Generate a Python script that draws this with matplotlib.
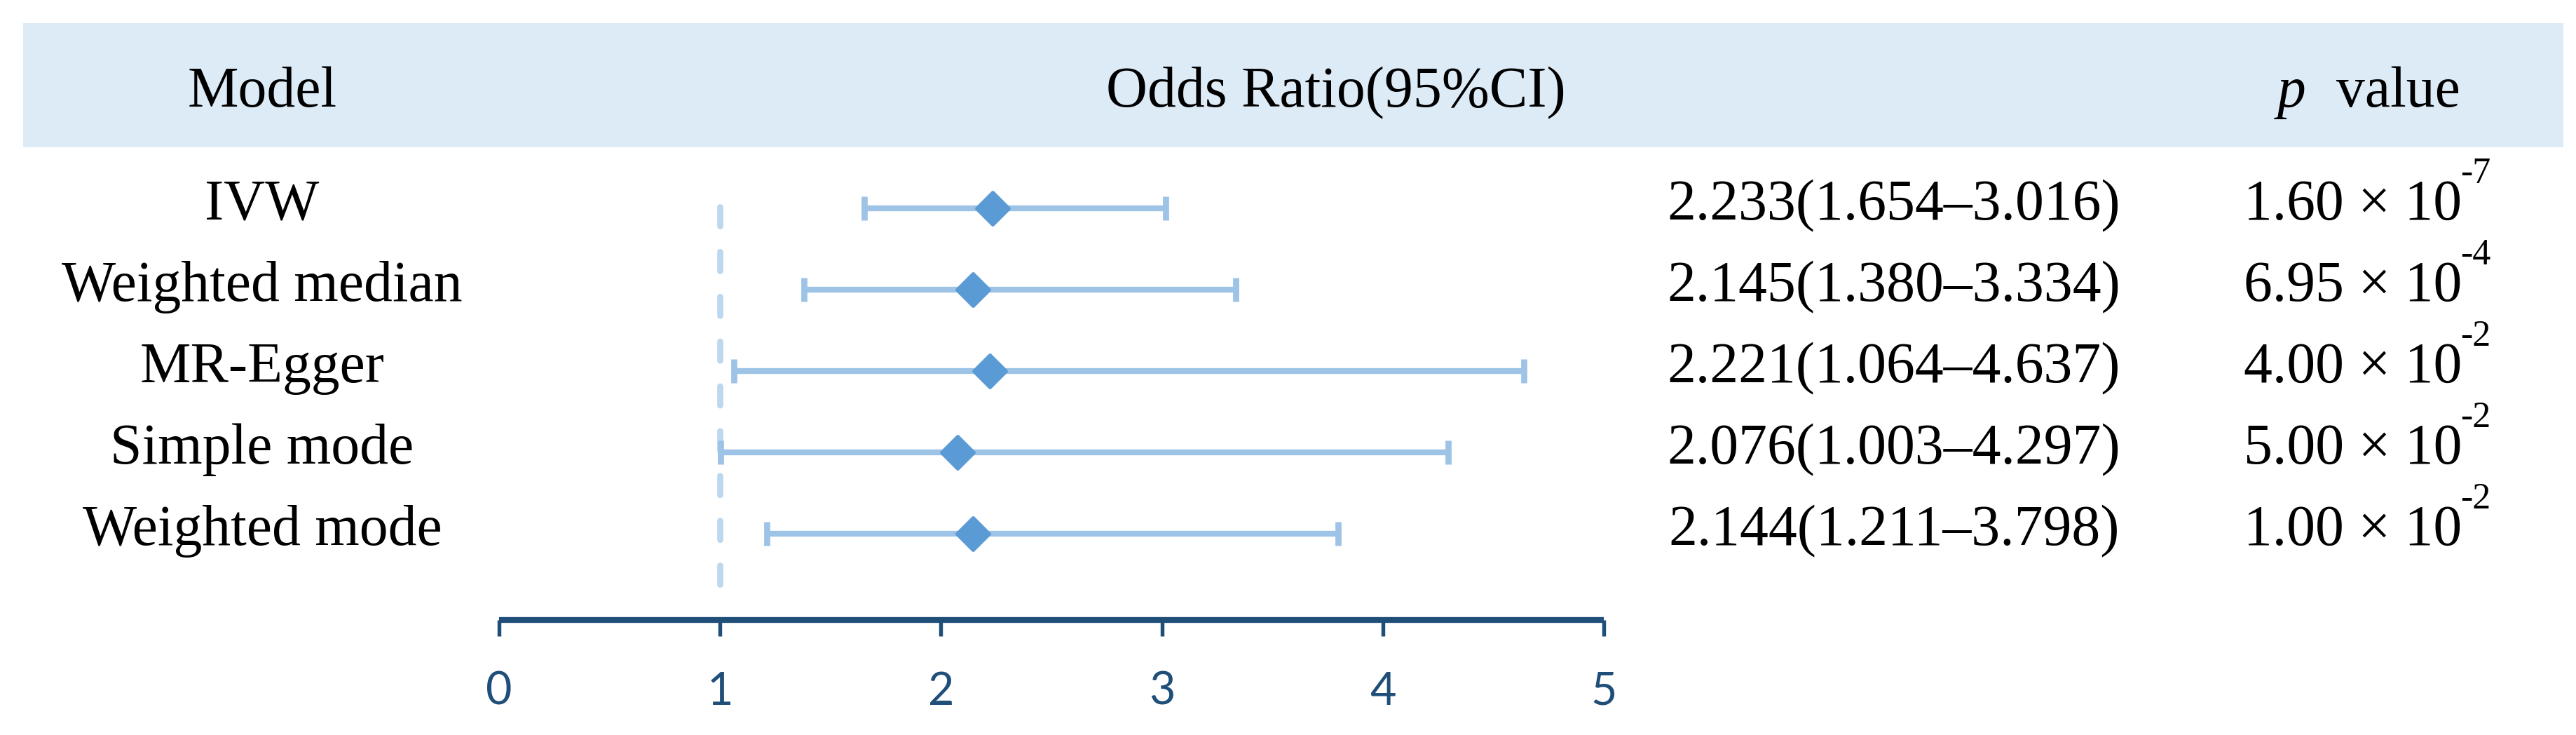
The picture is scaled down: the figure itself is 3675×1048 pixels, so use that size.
import matplotlib
matplotlib.use("Agg")
import matplotlib.pyplot as plt
import matplotlib.transforms as mtransforms
from matplotlib.patches import Rectangle
from matplotlib.markers import MarkerStyle

# ---------------- data ----------------
models = ["IVW", "Weighted median", "MR-Egger", "Simple mode", "Weighted mode"]
odds_ratio = [2.233, 2.145, 2.221, 2.076, 2.144]
ci_low = [1.654, 1.380, 1.064, 1.003, 1.211]
ci_high = [3.016, 3.334, 4.637, 4.297, 3.798]
p_mantissa = ["1.60", "6.95", "4.00", "5.00", "1.00"]
p_exponent = ["-7", "-4", "-2", "-2", "-2"]
x_ticks = [0, 1, 2, 3, 4, 5]
null_value = 1
headers = ["Model", "Odds Ratio(95%CI)", "value"]

# ---------------- style ----------------
W, H, DPI = 3675, 1048, 300
SERIF = "Liberation Serif"
C_DIAMOND = "#5B9BD5"
C_BAR = "#9DC3E6"
C_DASH = "#BDD7EE"
C_HEAD = "#DDEBF7"
C_AXIS = "#1F4E79"
FS = 19.6

fig = plt.figure(figsize=(W / DPI, H / DPI), dpi=DPI)

def fx(px):
    return px / W

def fy(py):
    return 1 - py / H

# header band
fig.patches.append(Rectangle((fx(33), fy(210)), fx(3657) - fx(33), fy(33) - fy(210),
                             transform=fig.transFigure, facecolor=C_HEAD, edgecolor="none", zorder=0))

# forest axes
ax_left, ax_right = 712, 2288
ax_top, ax_bottom = 239, 884
ax = fig.add_axes([fx(ax_left), fy(ax_bottom), fx(ax_right) - fx(ax_left), fy(ax_top) - fy(ax_bottom)])
ax.patch.set_alpha(0)

ypos = list(range(len(models)))
row0_px, row_step = 297, 116
ylim_bottom = (ax_bottom - row0_px) / row_step
ylim_top = (ax_top - row0_px) / row_step
ax.set_xlim(0, 5)
ax.set_ylim(ylim_bottom, ylim_top)

# null line
ax.plot([null_value, null_value], [-0.02, 4.81], color=C_DASH, lw=2.1,
        linestyle=(0, (3.1, 4.2)), dash_capstyle="round", zorder=1)

xerr = [[o - l for o, l in zip(odds_ratio, ci_low)], [h - o for o, h in zip(odds_ratio, ci_high)]]
ax.errorbar(odds_ratio, ypos, xerr=xerr, fmt="none", ecolor=C_BAR, elinewidth=2.0,
            capsize=4.0, capthick=2.1, zorder=2)
ax.plot(odds_ratio, ypos, linestyle="none",
        marker=MarkerStyle("D", joinstyle="round"), markersize=7.8,
        markerfacecolor=C_DIAMOND, markeredgecolor=C_DIAMOND, markeredgewidth=1.2, zorder=3)

for s in ["left", "top", "right"]:
    ax.spines[s].set_visible(False)
ax.spines["bottom"].set_color(C_AXIS)
ax.spines["bottom"].set_linewidth(2.0)
ax.spines["bottom"].set_capstyle("butt")
ax.set_yticks([])
ax.set_xticks(x_ticks)
ax.set_xticklabels([str(t) for t in x_ticks])
ax.tick_params(axis="x", direction="out", length=5.5, width=1.3, color=C_AXIS,
               pad=12, labelsize=15.5, labelcolor=C_AXIS)
for lab in ax.get_xticklabels():
    lab.set_fontfamily("Lato")

# header texts (baseline at ~152 px)
fig.text(fx(374), fy(152), headers[0], ha="center", va="baseline", fontsize=FS, family=SERIF)
fig.text(fx(1906), fy(152), headers[1], ha="center", va="baseline", fontsize=FS, family=SERIF)
fig.text(fx(3290), fy(152), "p", ha="right", va="baseline", fontsize=FS, family=SERIF, style="italic")
fig.text(fx(3333), fy(152), headers[2], ha="left", va="baseline", fontsize=FS, family=SERIF)

# row texts, tied to data rows
row_tr = mtransforms.blended_transform_factory(fig.transFigure, ax.transData) + \
    mtransforms.ScaledTranslation(0, -16 / DPI, fig.dpi_scale_trans)
for i, name in enumerate(models):
    fig.text(fx(374), ypos[i], name, ha="center", va="baseline", fontsize=FS,
             family=SERIF, transform=row_tr)
    ci_txt = f"{odds_ratio[i]:.3f}({ci_low[i]:.3f}\u2013{ci_high[i]:.3f})"
    fig.text(fx(2702), ypos[i], ci_txt, ha="center", va="baseline", fontsize=FS,
             family=SERIF, transform=row_tr)
    t = fig.text(fx(3201), ypos[i], f"{p_mantissa[i]} \u00d7 10", ha="left", va="baseline",
                 fontsize=FS, family=SERIF, transform=row_tr)
    ann = plt.Annotation(p_exponent[i], xy=(1.0, 1.0), xycoords=t,
                         xytext=(-0.6, 7.5), textcoords="offset points",
                         ha="left", va="top", fontsize=12.5, family=SERIF)
    ann.set_figure(fig)
    fig.texts.append(ann)

fig.savefig("out.png", dpi=DPI, facecolor="white")
